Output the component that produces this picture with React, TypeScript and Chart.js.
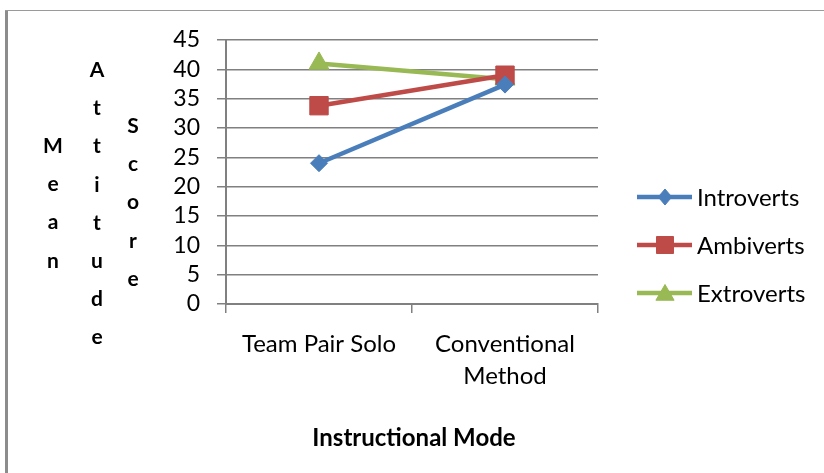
import React, { useEffect, useRef } from "react";
import { Chart, registerables } from "chart.js";

Chart.register(...registerables);

const categories: (string | string[])[] = ["Team Pair Solo", ["Conventional", "Method"]];
const introverts = [24.0, 37.4];
const ambiverts = [33.8, 39.0];
const extroverts = [41.0, 38.3];
const seriesNames = ["Introverts", "Ambiverts", "Extroverts"];
const yTitleWords = ["Mean", "Attitude", "Score"];
const xTitle = "Instructional Mode";

const FONT = "Lato, 'Open Sans', sans-serif";
const GRID = "#808080";
const COLORS = ["#4a7ebb", "#be4b48", "#98b954"];
const STYLES = ["rectRot", "rect", "triangle"];
const RADII = [8.5, 13, 11.5];

function drawMarker(ctx: CanvasRenderingContext2D, style: string, r: number, x: number, y: number) {
  ctx.beginPath();
  if (style === "rectRot") {
    ctx.moveTo(x, y - r);
    ctx.lineTo(x + r * 0.85, y);
    ctx.lineTo(x, y + r);
    ctx.lineTo(x - r * 0.85, y);
  } else if (style === "rect") {
    const s = r * Math.SQRT1_2;
    ctx.rect(x - s, y - s, 2 * s, 2 * s);
  } else {
    ctx.moveTo(x, y - r);
    ctx.lineTo(x + r * 0.866, y + r * 0.5);
    ctx.lineTo(x - r * 0.866, y + r * 0.5);
  }
  ctx.closePath();
  ctx.fill();
  ctx.stroke();
}

const decorPlugin = {
  id: "decor",
  beforeDraw(chart: any) {
    const ctx = chart.ctx;
    ctx.save();
    ctx.fillStyle = "#ffffff";
    ctx.fillRect(0, 0, chart.width, chart.height);
    ctx.restore();
  },
  afterDraw(chart: any) {
    const ctx = chart.ctx;
    ctx.save();
    // frame
    ctx.fillStyle = "#8c8c8c";
    ctx.fillRect(5, 10, 3, chart.height - 10);
    ctx.fillStyle = "#9a9a9a";
    ctx.fillRect(5, 10, chart.width - 5, 1);

    // y title: stacked letters in columns
    ctx.fillStyle = "#000";
    ctx.font = "bold 21px " + FONT;
    ctx.textAlign = "center";
    ctx.textBaseline = "alphabetic";
    const cols = [
      { x: 53, y0: 153 },
      { x: 97, y0: 77 },
      { x: 133, y0: 133 },
    ];
    yTitleWords.forEach((w, i) => {
      const c = cols[i];
      w.split("").forEach((ch, j) => {
        ctx.fillText(ch, c.x, c.y0 + j * 38.2);
      });
    });

    // x title
    ctx.font = "bold 24px " + FONT;
    ctx.fillText(xTitle, 414, 446);

    // legend
    const ys = [197, 245, 293];
    ctx.font = "24px " + FONT;
    ctx.textAlign = "left";
    ctx.textBaseline = "middle";
    seriesNames.forEach((name, i) => {
      const y = ys[i];
      ctx.strokeStyle = COLORS[i];
      ctx.lineWidth = 4.5;
      ctx.beginPath();
      ctx.moveTo(637, y);
      ctx.lineTo(692, y);
      ctx.stroke();
      ctx.fillStyle = COLORS[i];
      ctx.strokeStyle = COLORS[i];
      ctx.lineWidth = 1;
      const r = i === 0 ? 8 : i === 1 ? 12 : 10.5;
      drawMarker(ctx, STYLES[i], r, 665, i === 2 ? y + 2 : y);
      ctx.fillStyle = "#000";
      ctx.fillText(name, 697, y + 1);
    });
    ctx.restore();
  },
};

export default function App() {
  const ref = useRef<HTMLCanvasElement>(null);
  useEffect(() => {
    if (!ref.current) return;
    const data = [introverts, ambiverts, extroverts];
    const chart = new Chart(ref.current, {
      type: "line",
      data: {
        labels: categories as any,
        datasets: seriesNames.map((n, i) => ({
          label: n,
          data: data[i],
          borderColor: COLORS[i],
          backgroundColor: COLORS[i],
          borderWidth: 4.5,
          pointStyle: STYLES[i] as any,
          pointRadius: RADII[i],
          pointBorderWidth: 1,
          pointBackgroundColor: COLORS[i],
          pointBorderColor: COLORS[i],
          tension: 0,
          fill: false,
        })),
      },
      options: {
        animation: false,
        responsive: false,
        maintainAspectRatio: false,
        layout: { padding: { left: 0, right: 226, top: 40, bottom: 0 } },
        plugins: {
          legend: { display: false },
          tooltip: { enabled: false },
        },
        scales: {
          x: {
            offset: true,
            grid: {
              offset: true,
              drawOnChartArea: false,
              drawTicks: true,
              tickLength: 9,
              color: GRID,
              lineWidth: 1.5,
            },
            border: { display: true, color: GRID, width: 2 },
            ticks: {
              color: "#000",
              padding: 16,
              font: { family: FONT, size: 24, lineHeight: 1.3 },
              maxRotation: 0,
              autoSkip: false,
            },
            afterFit: (s: any) => {
              s.height = 473 - 304;
            },
          },
          y: {
            min: 0,
            max: 45,
            ticks: {
              stepSize: 5,
              autoSkip: false,
              count: 10,
              color: "#000",
              padding: 17,
              font: { family: FONT, size: 23, lineHeight: 1 },
            },
            afterBuildTicks: (s: any) => {
              const t = [];
              for (let v = 0; v <= 45; v += 5) t.push({ value: v });
              s.ticks = t;
            },
            grid: {
              color: GRID,
              lineWidth: 1.5,
              tickLength: 9,
              drawTicks: true,
            },
            border: { display: true, color: GRID, width: 2 },
            afterFit: (s: any) => {
              s.width = 226;
            },
          },
        },
      },
      plugins: [decorPlugin],
    });
    return () => chart.destroy();
  }, []);
  return (
    <div style={{ position: "absolute", left: 0, top: 0, width: 824, height: 473 }}>
      <canvas ref={ref} width={824} height={473} style={{ display: "block" }} />
    </div>
  );
}
